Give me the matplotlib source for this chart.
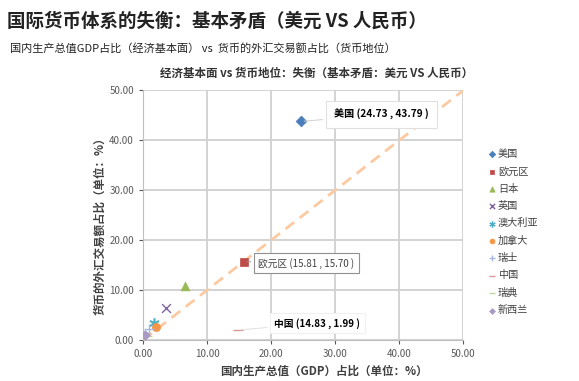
import numpy as np
import matplotlib.pyplot as plt

plt.rcParams['font.family'] = ['Noto Sans CJK SC', 'DejaVu Sans']

# 数据（单位：%）
countries = ['美国', '欧元区', '日本', '英国', '澳大利亚', '加拿大', '瑞士', '中国', '瑞典', '新西兰']
gdp_share = [24.73, 15.81, 6.6, 3.6, 1.7, 2.0, 0.9, 14.83, 0.6, 0.25]
fx_share = [43.79, 15.70, 10.8, 6.4, 3.5, 2.7, 2.3, 1.99, 0.9, 1.0]
markers = ['D', 's', '^', 'x', '$\\ast$', 'o', '+', '_', '_', 'D']
colors = ['#4a7ebb', '#be4b48', '#98b954', '#8064a2', '#4bacc6', '#f79646',
          '#a5b8df', '#d99694', '#c3d69b', '#a99bc6']
sizes = [30, 30, 40, 40, 50, 35, 50, 60, 60, 25]

fig = plt.figure(figsize=(5.79, 3.81), dpi=100)
ax = fig.add_axes([0.247, 0.1076, 0.553, 0.655])

# 对角参考线
ax.plot([0, 50], [0, 50], color='#fcc9a1', lw=2, ls=(0, (4, 2.5)), zorder=2)

for name, x, y, m, c, s in zip(countries, gdp_share, fx_share, markers, colors, sizes):
    lw = 1.0 if m in ('x', '+', '_') else 0.5
    ax.scatter(x, y, marker=m, color=c, s=s, linewidths=lw, label=name, zorder=3)

ax.set_xlim(0, 50)
ax.set_ylim(0, 50)
ticks = np.arange(0, 51, 10)
ax.set_xticks(ticks)
ax.set_yticks(ticks)
ax.set_xticklabels([f'{t:.2f}' for t in ticks])
ax.set_yticklabels([f'{t:.2f}' for t in ticks])
ax.tick_params(labelsize=7, colors='#595959', length=3, width=0.8)
ax.grid(True, color='#d0d0d0', lw=1.3)
ax.set_axisbelow(True)
for side in ['top', 'right']:
    ax.spines[side].set_visible(False)
for side in ['left', 'bottom']:
    ax.spines[side].set_color('#bfbfbf')

ax.set_xlabel('国内生产总值（GDP）占比（单位：%）', fontsize=8.3, fontweight='bold', color='#404040', labelpad=4)
ax.xaxis.set_label_coords(0.566, -0.1)
ax.set_ylabel('货币的外汇交易额占比（单位：%）', fontsize=8.3, fontweight='bold', color='#404040', labelpad=4)
ax.yaxis.set_label_coords(-0.115, 0.47)

# 标注
box = dict(boxstyle='square,pad=0.8', fc='white', ec='#e0e0e0', lw=0.8)
ax.annotate('美国 (24.73 , 43.79 )', xy=(gdp_share[0], fx_share[0]), xytext=(29.8, 45.2),
            fontsize=7.3, fontweight='bold', va='center', bbox=box,
            arrowprops=dict(arrowstyle='-', color='#d0d0d0', lw=0.7))
box2 = dict(boxstyle='square,pad=0.45', fc='white', ec='#909090', lw=0.8)
ax.annotate('欧元区 (15.81 , 15.70 )', xy=(gdp_share[1], fx_share[1]), xytext=(18.0, 15.4),
            fontsize=7, color='#404040', va='center', bbox=box2,
            arrowprops=dict(arrowstyle='-', color='#909090', lw=0.7))
box3 = dict(boxstyle='square,pad=0.45', fc='white', ec='#f0f0f0', lw=0.8)
ax.annotate('中国 (14.83 , 1.99 )', xy=(gdp_share[7], fx_share[7]), xytext=(20.5, 3.4),
            fontsize=7, fontweight='bold', va='center', bbox=box3,
            arrowprops=dict(arrowstyle='-', color='#e0e0e0', lw=0.7))

leg = ax.legend(loc='upper left', bbox_to_anchor=(1.08, 0.765), frameon=False, fontsize=7.3,
                handlelength=0.6, handletextpad=0.3, labelspacing=0.72, markerscale=0.6,
                borderaxespad=0, borderpad=0)
for t in leg.get_texts():
    t.set_color('#404040')

fig.text(0.012, 0.945, '国际货币体系的失衡：基本矛盾（美元 VS 人民币）', fontsize=13.3,
         fontweight='bold', color='#222222', va='center')
fig.text(0.018, 0.872, '国内生产总值GDP占比（经济基本面） vs  货币的外汇交易额占比（货币地位）',
         fontsize=8, color='#222222', va='center')
fig.text(0.547, 0.808, '经济基本面 vs 货币地位：失衡（基本矛盾：美元 VS 人民币）', fontsize=8.3,
         fontweight='bold', color='#333333', ha='center', va='center')

fig.savefig('out.png', dpi=100)
